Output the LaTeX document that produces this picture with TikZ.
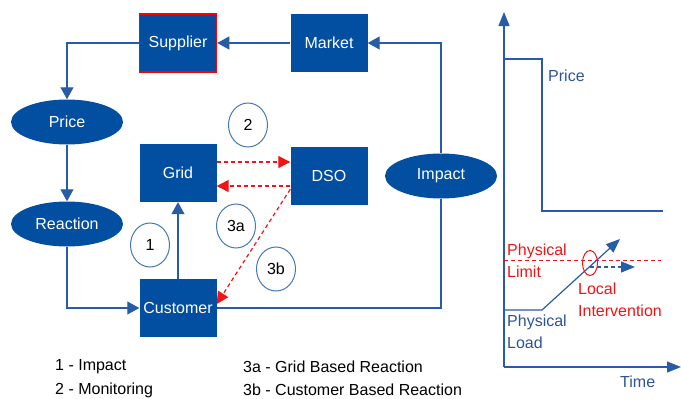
\documentclass[tikz,border=0pt]{standalone}
\usepackage{fontspec}
\setmainfont{Liberation Sans}
\usetikzlibrary{shapes.geometric,arrows.meta,calc}
\definecolor{boxblue}{RGB}{2,78,160}
\definecolor{lineblue}{RGB}{40,92,166}
\definecolor{txtblue}{RGB}{44,84,150}
\definecolor{ringblue}{RGB}{70,120,185}
\definecolor{alarmred}{RGB}{240,20,20}
\tikzset{
  every node/.style={font=\fontsize{16}{19}\selectfont},
  blockbox/.style={rectangle, fill=boxblue, text=white, minimum width=77pt, minimum height=58pt, inner sep=0pt},
  stateoval/.style={ellipse, fill=boxblue, text=white, minimum width=112pt, minimum height=45pt, inner sep=0pt},
  stepring/.style={ellipse, draw=ringblue, line width=1pt, fill=white, text=black, minimum width=39pt, minimum height=44pt, inner sep=0pt},
  tipblue/.style={-{Triangle[length=12pt,width=13pt]}},
  flow/.style={draw=lineblue, line width=1.2pt, tipblue},
  plainflow/.style={draw=lineblue, line width=1.2pt},
  redflow/.style={draw=alarmred, line width=1.2pt, dashed, dash pattern=on 4pt off 3pt, -{Triangle[length=12pt,width=12pt]}},
  chartline/.style={draw=lineblue, line width=1.2pt},
  chartaxis/.style={draw=lineblue, line width=1.2pt, -{Triangle[length=14pt,width=11pt]}},
  charttext/.style={text=txtblue, anchor=west, align=left, inner sep=0pt, font=\fontsize{16}{22}\selectfont},
  redtext/.style={text=alarmred, anchor=west, align=left, inner sep=0pt, font=\fontsize{16}{22}\selectfont},
  legend/.style={text=black, anchor=west, inner sep=0pt}
}
\begin{document}
\begin{tikzpicture}[x=1pt,y=-1pt]
\useasboundingbox (0,0) rectangle (681,399);

% blocks of the loop
\node[blockbox, draw=red, line width=1.5pt] (sup) at (178,43) {Supplier};
\node[blockbox] (mkt) at (329,43) {Market};
\node[blockbox] (grid) at (178,173) {Grid};
\node[blockbox] (dso) at (329,176) {DSO};
\node[blockbox] (cust) at (178,308) {Customer};
\node[stateoval] (price) at (67,122) {Price};
\node[stateoval] (react) at (67,224) {Reaction};
\node[stateoval] (imp) at (441,176) {Impact};

% numbered markers
\node[stepring] (n2) at (248,125) {2};
\node[stepring] (n1) at (150,245) {1};
\node[stepring] (n3a) at (236,226) {3a};
\node[stepring] (n3b) at (276,269) {3b};

% main loop
\draw[flow] (mkt.west) -- (sup.east);
\draw[flow] (sup.west) -| (price.north);
\draw[flow] (price.south) -- (react.north);
\draw[flow] (react.south) |- (cust.west);
\draw[flow] (cust.north) -- (grid.south);
\draw[plainflow] (cust.east) -| (imp.south);
\draw[flow] (imp.north) |- (mkt.east);

% grid / DSO interaction
\draw[redflow] ([yshift=11pt]grid.east) -- ([yshift=11pt]grid.east -| dso.west);
\draw[redflow] ([yshift=-13pt]grid.east -| dso.west) -- ([yshift=-13pt]grid.east);
\draw[redflow] ([yshift=16pt]dso.south west) -- ([yshift=4pt]cust.east);

% legend
\node[legend] (l1) at (55,367) {1 - Impact};
\node[legend] (l2) at (55,390) {2 - Monitoring};
\node[legend] (l3a) at (243,367) {3a - Grid Based Reaction};
\node[legend] (l3b) at (243,390) {3b - Customer Based Reaction};

% time chart
\coordinate (o) at (504,367);
\coordinate (ytop) at (504,12);
\coordinate (xend) at (681,367);
\draw[chartaxis] (o) -- (ytop);
\draw[chartaxis] (o) -- (xend);
\draw[chartline] (504,59) -- (542,59) -- (542,211) -- (663,211);
\node[charttext] (plabel) at (548,76) {Price};
\draw[alarmred, line width=1pt, dashed, dash pattern=on 4pt off 3pt] (504,260) -- (661,260);
\draw[draw=lineblue, line width=1.2pt, -{Triangle[length=14pt,width=11pt]}] (504,310) -- (542,310) -- (620,239);
\draw[draw=lineblue, line width=1.2pt, dashed, dash pattern=on 4pt off 3pt, -{Triangle[length=14pt,width=11pt]}] (590,267) -- (635,267);
\node[ellipse, draw=alarmred, line width=1pt, minimum width=15pt, minimum height=25pt, inner sep=0pt] (hit) at (590,263) {};
\node[redtext] (limit) at (507,261) {Physical\\Limit};
\node[redtext] (interv) at (578,300) {Local\\Intervention};
\node[charttext] (load) at (507,332) {Physical\\Load};
\node[charttext] (time) at (620,382) {Time};
\end{tikzpicture}
\end{document}
